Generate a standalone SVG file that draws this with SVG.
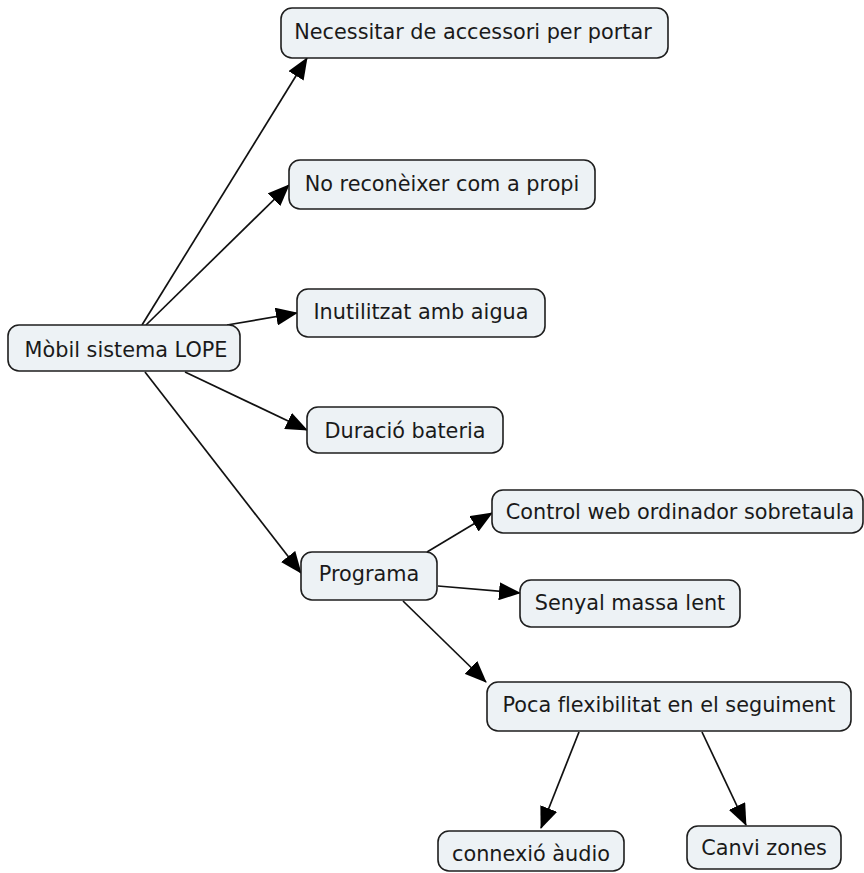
<svg xmlns="http://www.w3.org/2000/svg" width="864" height="873" viewBox="0 0 864 873">
  <style>
    .box { fill: #edf2f5; stroke: #1e1e1e; stroke-width: 1.6; }
    .lbl { font-family: "DejaVu Sans", Verdana, sans-serif; font-size: 20.8px; fill: #1a1a1a; text-anchor: middle; font-variant-ligatures: none; }
    .edge { stroke: #111; stroke-width: 1.7; fill: none; marker-end: url(#arrow); }
  </style>
  <defs>
    <marker id="arrow" markerUnits="userSpaceOnUse" markerWidth="22" markerHeight="18" viewBox="0 0 22 18" refX="21" refY="9" orient="auto">
      <path d="M0,0 L22,9 L0,18 z" fill="#000"/>
    </marker>
  </defs>
  <rect width="864" height="873" fill="#fff"/>

  <!-- connectors -->
  <g id="connectors">
    <line class="edge" x1="142" y1="325" x2="307" y2="58"/>
    <line class="edge" x1="146" y1="325" x2="289" y2="185"/>
    <line class="edge" x1="227" y1="325" x2="297" y2="313"/>
    <line class="edge" x1="185" y1="372" x2="307" y2="430"/>
    <line class="edge" x1="145" y1="372" x2="301" y2="573"/>
    <line class="edge" x1="427" y1="552" x2="492" y2="513"/>
    <line class="edge" x1="438" y1="586" x2="520" y2="593"/>
    <line class="edge" x1="403" y1="601" x2="486" y2="682"/>
    <line class="edge" x1="579" y1="732" x2="541" y2="828"/>
    <line class="edge" x1="702" y1="732" x2="746" y2="825"/>
  </g>

  <g id="node-mobil">
    <rect class="box" x="8" y="325" width="232" height="46" rx="11"/>
    <text class="lbl" x="126" y="356.5">Mòbil sistema LOPE</text>
  </g>
  <g id="node-accessori">
    <rect class="box" x="281" y="8" width="387" height="50" rx="11"/>
    <text class="lbl" x="473" y="38.5">Necessitar de accessori per portar</text>
  </g>
  <g id="node-propi">
    <rect class="box" x="289" y="160" width="306" height="49" rx="11"/>
    <text class="lbl" x="442" y="191">No reconèixer com a propi</text>
  </g>
  <g id="node-aigua">
    <rect class="box" x="297" y="289" width="248" height="48" rx="11"/>
    <text class="lbl" x="421" y="319">Inutilitzat amb aigua</text>
  </g>
  <g id="node-bateria">
    <rect class="box" x="307" y="407" width="196" height="46" rx="11"/>
    <text class="lbl" x="405" y="438">Duració bateria</text>
  </g>
  <g id="node-programa">
    <rect class="box" x="301" y="552" width="136" height="48" rx="11"/>
    <text class="lbl" x="369" y="581">Programa</text>
  </g>
  <g id="node-control">
    <rect class="box" x="492" y="490" width="371" height="43" rx="11"/>
    <text class="lbl" x="680" y="519">Control web ordinador sobretaula</text>
  </g>
  <g id="node-senyal">
    <rect class="box" x="520" y="580" width="220" height="47" rx="11"/>
    <text class="lbl" x="630" y="610">Senyal massa lent</text>
  </g>
  <g id="node-flexibilitat">
    <rect class="box" x="487" y="682" width="364" height="49" rx="11"/>
    <text class="lbl" x="669" y="712">Poca flexibilitat en el seguiment</text>
  </g>
  <g id="node-audio">
    <rect class="box" x="438" y="831" width="186" height="40" rx="11"/>
    <text class="lbl" x="531" y="861">connexió àudio</text>
  </g>
  <g id="node-zones">
    <rect class="box" x="687" y="826" width="154" height="43" rx="11"/>
    <text class="lbl" x="764" y="855">Canvi zones</text>
  </g>
</svg>
